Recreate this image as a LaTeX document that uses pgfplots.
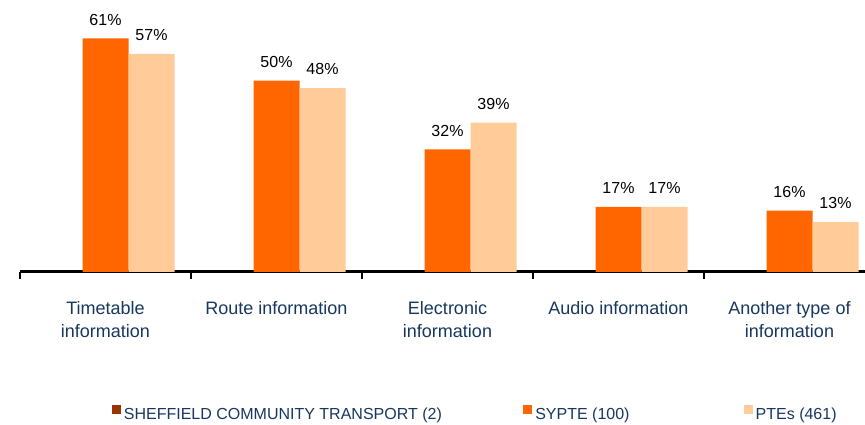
\documentclass[border=0pt]{standalone}
\usepackage{pgfplots}
\pgfplotsset{compat=1.18}
\usepackage{fontspec}
\setmainfont{Liberation Sans}
\definecolor{sypte}{HTML}{FF6600}
\definecolor{ptes}{HTML}{FFCC99}
\definecolor{shef}{HTML}{993300}
\definecolor{navy}{RGB}{23,55,94}
\begin{document}
\begin{tikzpicture}
\begin{axis}[
  at={(0pt,0pt)}, anchor=south west,
  scale only axis, width=855pt, height=268pt,
  xmin=-0.5, xmax=4.5, ymin=0, ymax=70,
  axis x line*=bottom, hide y axis,
  x axis line style={line width=3pt, black, -},
  xtick={0,1,2,3,4}, major tick length=0pt,
  xticklabels={Timetable\\information, Route information, Electronic\\information, Audio information, Another type of\\information},
  xticklabel style={font=\fontsize{18}{23}\selectfont, text=navy, align=center, anchor=north, inner sep=0pt, yshift=-29pt},
  extra x ticks={-0.5,0.5,1.5,2.5,3.5,4.5},
  extra x tick labels={,,,,,},
  extra x tick style={major tick length=7pt, tick align=outside, tick style={black, line width=1.2pt}},
  clip=false,
  /pgf/number format/assume math mode=true,
  ybar, bar width=46pt,
  nodes near coords={\pgfmathprintnumber{\pgfplotspointmeta}\%},
  nodes near coords style={font=\fontsize{16}{19}\selectfont, black, inner sep=0pt, anchor=south, yshift=13pt},
  legend columns=3,
  legend cell align=left,
  legend style={at={(axis description cs:0.1076,-0.527)}, anchor=west, draw=none, fill=none, inner sep=0pt, outer sep=0pt,
    font=\fontsize{16}{19}\selectfont, text=navy,
    /tikz/every even column/.style={column sep=0pt},
    /tikz/every odd column/.style={column sep=0pt},
    nodes={inner xsep=0pt, inner ysep=0pt}},
]
\addlegendimage{legend image code/.code={\fill[shef] (0pt,1pt) rectangle (8pt,9pt);}}
\addlegendentry{\hspace{3.5pt}\makebox[399.5pt][l]{SHEFFIELD COMMUNITY TRANSPORT (2)}}
\addlegendimage{legend image code/.code={\fill[sypte] (0pt,1pt) rectangle (8pt,9pt);}}
\addlegendentry{\hspace{3.5pt}\makebox[208.5pt][l]{SYPTE (100)}}
\addlegendimage{legend image code/.code={\fill[ptes] (0pt,1pt) rectangle (8pt,9pt);}}
\addlegendentry{\hspace{3.5pt}PTEs (461)}
\addplot[forget plot, fill=sypte, draw=none, bar shift=0pt] coordinates {(0,61) (1,50) (2,32) (3,17) (4,16)};
\addplot[forget plot, fill=ptes, draw=none, bar shift=46pt] coordinates {(0,57) (1,48) (2,39) (3,17) (4,13)};
\end{axis}
\pgfresetboundingbox
\path[use as bounding box] (-20pt,-153pt) rectangle (845pt,272pt);
\end{tikzpicture}
\end{document}
